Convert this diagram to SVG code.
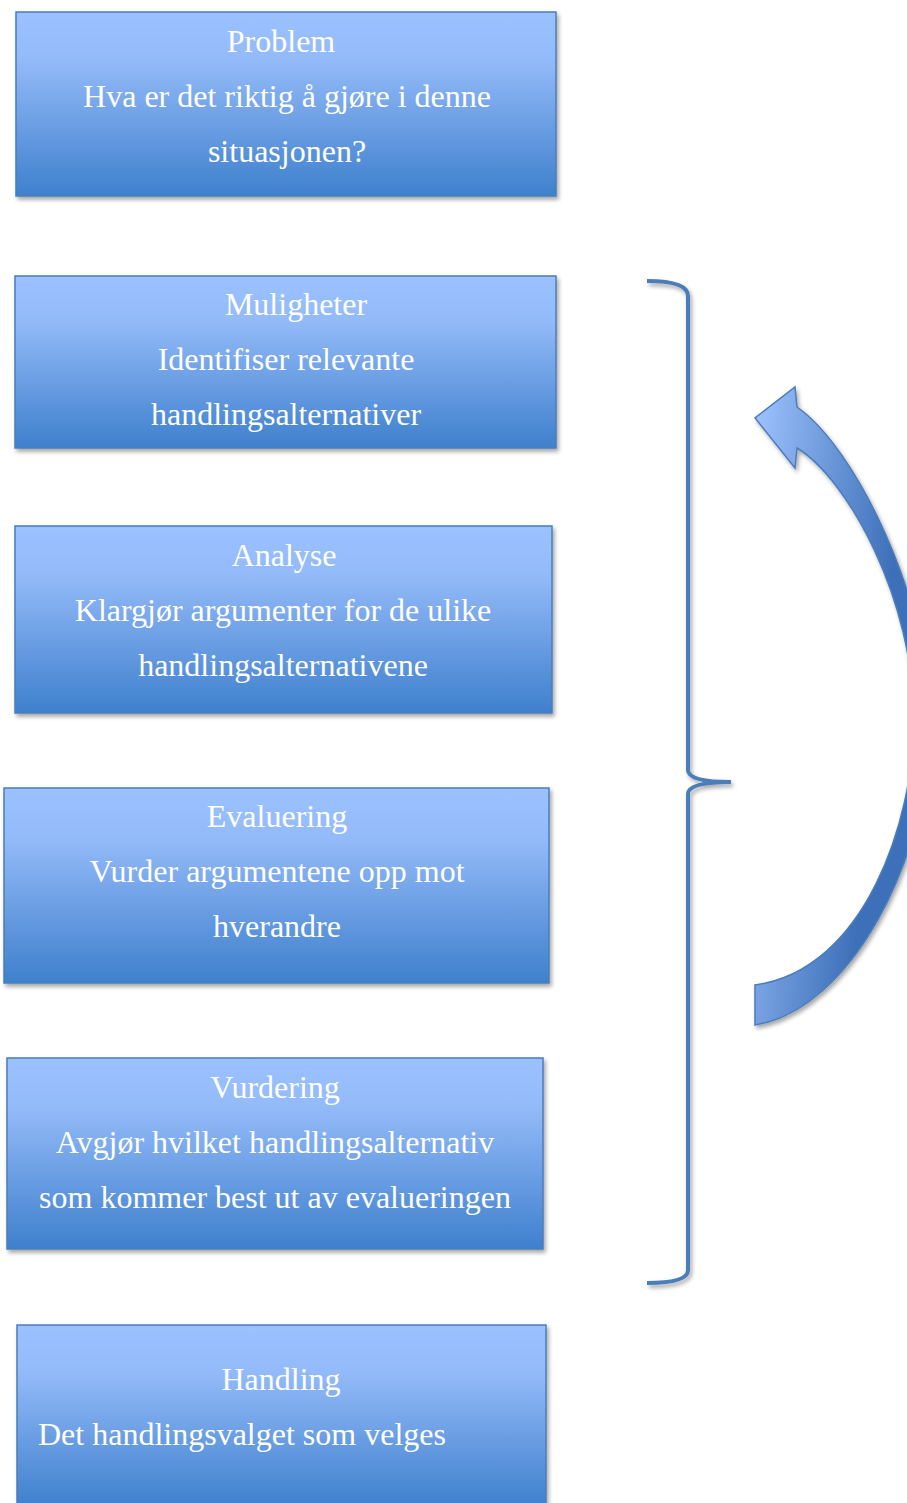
<svg xmlns="http://www.w3.org/2000/svg" width="907" height="1503" viewBox="0 0 907 1503">
<defs>
<linearGradient id="boxGrad" x1="0" y1="0" x2="0" y2="1">
<stop offset="0" stop-color="#9bc1ff"/>
<stop offset="0.25" stop-color="#94bbf9"/>
<stop offset="1" stop-color="#3f80cd"/>
</linearGradient>
<linearGradient id="arrowGrad" gradientUnits="userSpaceOnUse" x1="755" y1="418" x2="907" y2="433">
<stop offset="0" stop-color="#9dc2fd"/>
<stop offset="1" stop-color="#3d6fb8"/>
</linearGradient>
<filter id="shadow" x="-10%" y="-10%" width="120%" height="130%">
<feDropShadow dx="2" dy="3" stdDeviation="2" flood-color="#000" flood-opacity="0.35"/>
</filter>
</defs>
<style>
.box{fill:url(#boxGrad);stroke:#4a7ebb;stroke-width:1.5;filter:url(#shadow)}
.t{font-family:"Liberation Serif","Times New Roman",serif;font-size:32px;fill:#ffffff;text-anchor:middle}
.ts{text-anchor:start}
.brace{fill:none;stroke:#4a7ebb;stroke-width:4;stroke-linecap:butt;filter:url(#shadow)}
.arrow{fill:url(#arrowGrad);stroke:#4a7ebb;stroke-width:1.5;filter:url(#shadow)}
</style>
<rect width="907" height="1503" fill="#ffffff"/>

<g id="problem">
<rect class="box" x="16" y="12" width="540" height="184"/>
<text class="t" x="281" y="52">Problem</text>
<text class="t" x="287" y="107">Hva er det riktig å gjøre i denne</text>
<text class="t" x="287" y="162">situasjonen?</text>
</g>

<g id="muligheter">
<rect class="box" x="15" y="276" width="541" height="172"/>
<text class="t" x="296" y="315">Muligheter</text>
<text class="t" x="286" y="370">Identifiser relevante</text>
<text class="t" x="286" y="425">handlingsalternativer</text>
</g>

<g id="analyse">
<rect class="box" x="15" y="526" width="537" height="187"/>
<text class="t" x="284" y="566">Analyse</text>
<text class="t" x="283" y="621">Klargjør argumenter for de ulike</text>
<text class="t" x="283" y="676">handlingsalternativene</text>
</g>

<g id="evaluering">
<rect class="box" x="4" y="788" width="545" height="195"/>
<text class="t" x="277" y="827">Evaluering</text>
<text class="t" x="277" y="882">Vurder argumentene opp mot</text>
<text class="t" x="277" y="937">hverandre</text>
</g>

<g id="vurdering">
<rect class="box" x="7" y="1058" width="536" height="191"/>
<text class="t" x="275" y="1098">Vurdering</text>
<text class="t" x="275" y="1153">Avgjør hvilket handlingsalternativ</text>
<text class="t" x="275" y="1208">som kommer best ut av evalueringen</text>
</g>

<g id="handling">
<rect class="box" x="17" y="1325" width="529" height="182"/>
<text class="t" x="281" y="1390">Handling</text>
<text class="t ts" x="38" y="1445">Det handlingsvalget som velges</text>
</g>

<g id="connectors">
<path class="brace" d="M647,281 Q688,281 688,296 L688,770 Q688,782 731,782 Q688,782 688,794 L688,1270 Q688,1283 647,1283"/>
<path class="arrow" d="M797,407 C855,447 930,600 930,720 C930,860 850,1010 755,1025 L755,985 C865,970 914,820 914,720 C914,600 848,479 797,448 L795,468 L755,418 L795,387 Z"/>
</g>
</svg>
